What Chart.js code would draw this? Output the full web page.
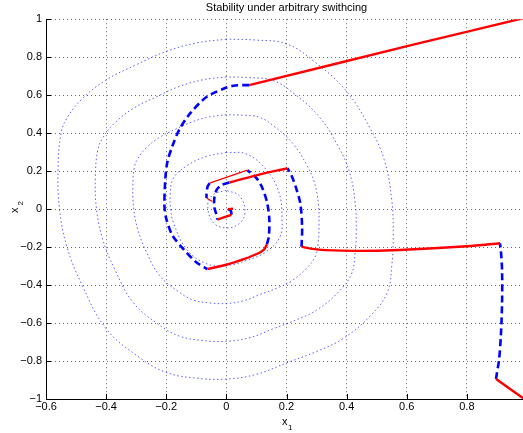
<!DOCTYPE html>
<html>
<head>
<meta charset="utf-8">
<script src="https://cdn.jsdelivr.net/npm/chart.js@4/dist/chart.umd.min.js"></script>
<style>
  html, body { margin: 0; padding: 0; background: #fff; overflow: hidden; }
  #wrap { width: 523px; height: 433px; overflow: hidden; }
  canvas { display: block; }
</style>
</head>
<body>
<div id="wrap"><canvas id="my-chart" width="560" height="433"></canvas></div>
<script>
// dotted level curves (outer to inner) as [x1, x2]
const level09 = [[0,0.895],[-0.1,0.875],[-0.2,0.83],[-0.3,0.76],[-0.4,0.68],[-0.48,0.58],[-0.53,0.48],[-0.55,0.4],[-0.56,0.21],[-0.555,0],[-0.53,-0.2],[-0.48,-0.4],[-0.4,-0.63],[-0.29,-0.78],[-0.2,-0.86],[-0.1,-0.89],[0,-0.895],[0.1,-0.87],[0.2,-0.81],[0.3,-0.75],[0.39,-0.68],[0.48,-0.56],[0.535,-0.44],[0.55,-0.3],[0.555,-0.15],[0.55,0.05],[0.525,0.26],[0.48,0.42],[0.4,0.62],[0.29,0.78],[0.2,0.87],[0.1,0.89],[0,0.895]];
const level07 = [[0,0.696],[-0.078,0.681],[-0.156,0.646],[-0.233,0.591],[-0.311,0.529],[-0.373,0.451],[-0.412,0.373],[-0.428,0.311],[-0.436,0.163],[-0.432,0],[-0.412,-0.156],[-0.373,-0.311],[-0.311,-0.49],[-0.226,-0.607],[-0.156,-0.669],[-0.078,-0.692],[0,-0.696],[0.078,-0.677],[0.156,-0.63],[0.233,-0.583],[0.303,-0.529],[0.373,-0.436],[0.416,-0.342],[0.428,-0.233],[0.432,-0.117],[0.428,0.039],[0.408,0.202],[0.373,0.327],[0.311,0.482],[0.226,0.607],[0.156,0.677],[0.078,0.692],[0,0.696]];
const level05 = [[0,0.497],[-0.056,0.486],[-0.111,0.461],[-0.167,0.422],[-0.222,0.378],[-0.267,0.322],[-0.294,0.267],[-0.306,0.222],[-0.311,0.117],[-0.308,0],[-0.294,-0.111],[-0.267,-0.222],[-0.222,-0.35],[-0.161,-0.433],[-0.111,-0.478],[-0.056,-0.494],[0,-0.497],[0.056,-0.483],[0.111,-0.45],[0.167,-0.417],[0.217,-0.378],[0.267,-0.311],[0.297,-0.244],[0.306,-0.167],[0.308,-0.083],[0.306,0.028],[0.292,0.144],[0.267,0.233],[0.222,0.344],[0.161,0.433],[0.111,0.483],[0.056,0.494],[0,0.497]];
const level03 = [[0,0.298],[-0.067,0.277],[-0.133,0.227],[-0.177,0.16],[-0.187,0.07],[-0.185,0],[-0.177,-0.067],[-0.133,-0.21],[-0.067,-0.287],[0,-0.298],[0.067,-0.27],[0.13,-0.227],[0.178,-0.147],[0.185,-0.05],[0.175,0.087],[0.133,0.207],[0.067,0.29],[0,0.298]];
const level01 = [[0,0.099],[-0.044,0.076],[-0.062,0.023],[-0.044,-0.07],[0,-0.099],[0.043,-0.076],[0.062,-0.017],[0.044,0.069],[0,0.099]];

// switched trajectory from the top right
const redA = [[0.076,0.653],[0.625,0.867],[1.0,1.01]];
const blueA = [[0.076,0.653],[0.03,0.651],[0,0.64],[-0.066,0.59],[-0.12,0.505],[-0.156,0.42],[-0.18,0.33],[-0.196,0.25],[-0.203,0.16],[-0.206,0.015],[-0.2,-0.05],[-0.18,-0.137],[-0.146,-0.205],[-0.1,-0.28],[-0.063,-0.316]];
const redB = [[-0.063,-0.316],[0,-0.293],[0.06,-0.262],[0.103,-0.235],[0.125,-0.213],[0.135,-0.185]];
const blueB = [[0.135,-0.185],[0.141,-0.147],[0.143,-0.058],[0.136,0.03],[0.12,0.11],[0.1,0.163],[0.07,0.205]];
const redC = [[0.07,0.205],[-0.056,0.137]];
const blueC = [[-0.056,0.137],[-0.063,0.116],[-0.066,0.08],[-0.066,0.058]];
const redD = [[-0.066,0.058],[-0.047,0.04]];

// switched trajectory from the bottom right
const redE = [[1.0,-1.01],[0.897,-0.895]];
const blueE = [[0.897,-0.895],[0.9,-0.863],[0.907,-0.795],[0.913,-0.67],[0.917,-0.495],[0.917,-0.32],[0.913,-0.216],[0.91,-0.18]];
const redF = [[0.91,-0.18],[0.8,-0.196],[0.575,-0.215],[0.435,-0.22],[0.33,-0.216],[0.28,-0.208],[0.25,-0.198]];
const blueF = [[0.25,-0.198],[0.252,-0.095],[0.246,0.03],[0.232,0.11],[0.216,0.18],[0.203,0.215]];
const redG = [[0.203,0.215],[0.1,0.178],[0.01,0.14]];
const blueG = [[0.01,0.14],[-0.017,0.126],[-0.033,0.1],[-0.04,0.058],[-0.04,0.01],[-0.033,-0.03],[-0.03,-0.055]];
const redH = [[-0.03,-0.055],[0.017,-0.03]];
const blueH = [[0.017,-0.03],[0.015,-0.01],[0.005,0]];
const redI = [[0.005,0],[0.022,0.002]];

const toPts = (arr) => arr.map(([x, y]) => ({ x, y }));

const contourSets = [level09, level07, level05, level03, level01].map((d) => ({
  data: toPts(d),
  borderColor: "rgba(40,40,255,0.75)",
  borderWidth: 1,
  borderDash: [1.5, 2.5],
  tension: 0.4,
  order: 2,
}));
const redSets = [redA, redB, redE, redF, redG, redH, redI].map((d) => ({
  data: toPts(d),
  borderColor: "#ff0000",
  borderWidth: 2.4,
  tension: 0.3,
  order: 0,
}));
const thinRedSets = [redC, redD].map((d) => ({
  data: toPts(d),
  borderColor: "#ff0000",
  borderWidth: 1.2,
  order: 0,
}));
const blueSets = [blueA, blueB, blueC, blueE, blueF, blueG, blueH].map((d) => ({
  data: toPts(d),
  borderColor: "#0000ff",
  borderWidth: 2.6,
  borderDash: [7, 4],
  tension: 0.3,
  order: 1,
}));

const fmt = (v) => {
  const s = Math.abs(v) < 1e-9 ? "0" : String(Math.round(v * 10) / 10);
  return s.replace("-", "\u2212");
};

// inward tick marks and subscripted axis labels, MATLAB style
const matlabAxes = {
  id: "matlabAxes",
  afterDraw(chart) {
    const { ctx, chartArea, scales } = chart;
    ctx.save();
    ctx.strokeStyle = "#000";
    ctx.lineWidth = 1;
    ctx.beginPath();
    scales.x.ticks.forEach((t) => {
      const px = Math.round(scales.x.getPixelForValue(t.value)) + 0.5;
      ctx.moveTo(px, chartArea.bottom);
      ctx.lineTo(px, chartArea.bottom - 5);
    });
    scales.y.ticks.forEach((t) => {
      const py = Math.round(scales.y.getPixelForValue(t.value)) + 0.5;
      ctx.moveTo(chartArea.left, py);
      ctx.lineTo(chartArea.left + 5, py);
    });
    ctx.stroke();

    ctx.fillStyle = "#000";
    ctx.textAlign = "left";
    ctx.textBaseline = "alphabetic";
    ctx.font = '11px "Liberation Sans", Arial, sans-serif';
    ctx.fillText("x", 282, 425);
    ctx.font = '8px "Liberation Sans", Arial, sans-serif';
    ctx.fillText("1", 288, 430);

    ctx.translate(18, 213);
    ctx.rotate(-Math.PI / 2);
    ctx.font = '11px "Liberation Sans", Arial, sans-serif';
    ctx.fillText("x", 0, 0);
    ctx.font = '8px "Liberation Sans", Arial, sans-serif';
    ctx.fillText("2", 7.5, 4.5);
    ctx.restore();
  },
};

Chart.defaults.font.family = '"Liberation Sans", Arial, sans-serif';
Chart.defaults.font.size = 11;
Chart.defaults.color = "#000";

const ctx = document.getElementById("my-chart").getContext("2d");
const myChart = new Chart(ctx, {
  type: "scatter",
  data: {
    datasets: [...redSets, ...thinRedSets, ...blueSets, ...contourSets].map((ds) => ({
      ...ds,
      showLine: true,
      pointRadius: 0,
      pointHoverRadius: 0,
      fill: false,
    })),
  },
  options: {
    responsive: false,
    animation: false,
    events: [],
    layout: { padding: { left: 0, right: 33, top: 0, bottom: 0 } },
    plugins: {
      legend: { display: false },
      tooltip: { enabled: false },
      title: {
        display: true,
        text: "Stability under arbitrary swithcing",
        fullSize: false,
        font: { size: 11, weight: "normal" },
        color: "#000",
        padding: { top: 1, bottom: 5 },
      },
    },
    scales: {
      x: {
        type: "linear",
        min: -0.6,
        max: 1,
        ticks: { stepSize: 0.2, padding: 1, maxRotation: 0, callback: fmt },
        grid: { color: "rgba(0,0,0,0.6)", lineWidth: 1, drawTicks: false },
        border: { display: true, color: "#000", width: 1, dash: [1, 3] },
        afterFit: (scale) => { scale.height = 34; },
      },
      y: {
        type: "linear",
        min: -1,
        max: 1,
        ticks: { stepSize: 0.2, padding: 4, callback: fmt },
        grid: { color: "rgba(0,0,0,0.6)", lineWidth: 1, drawTicks: false },
        border: { display: true, color: "#000", width: 1, dash: [1, 3] },
        afterFit: (scale) => { scale.width = 46; },
      },
    },
  },
  plugins: [matlabAxes],
});
</script>
</body>
</html>
